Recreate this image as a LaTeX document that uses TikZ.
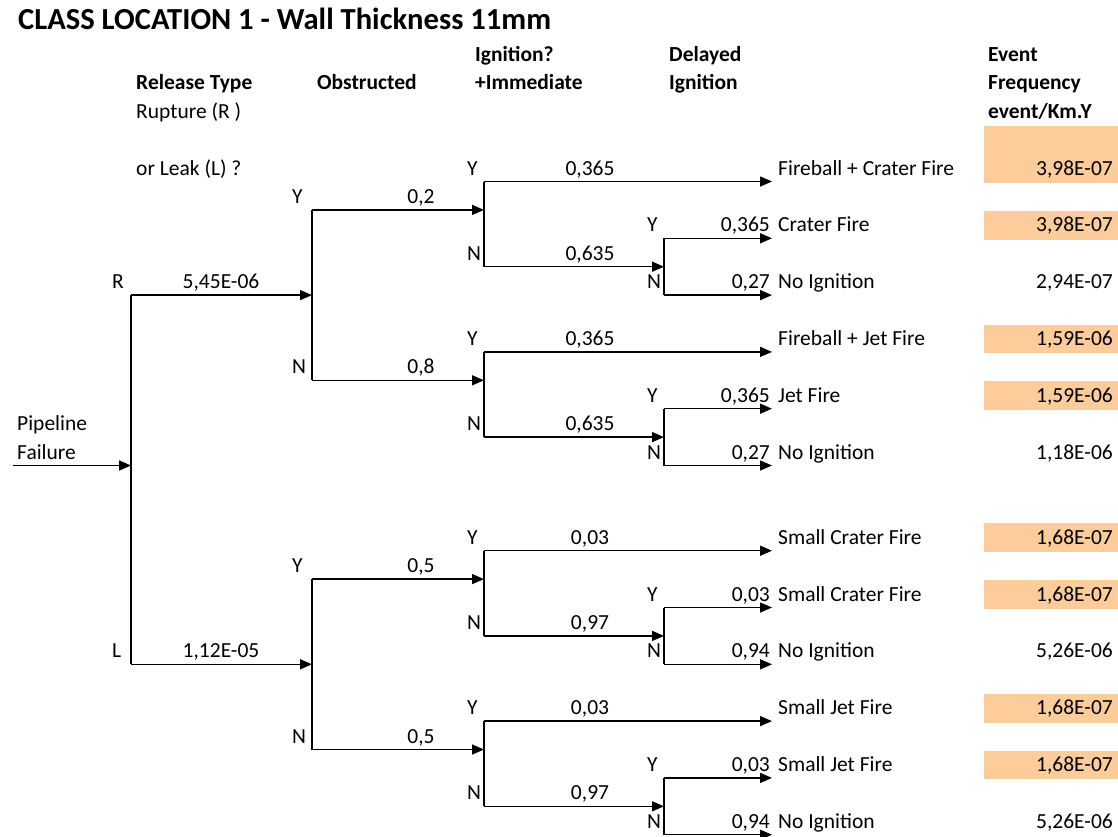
\documentclass[tikz,border=0pt]{standalone}
\usepackage{fontspec}
\setmainfont{Carlito}
\usetikzlibrary{arrows.meta}
\definecolor{cellshade}{RGB}{252,205,155}
\newcommand\rowy[1]{(181.5+28.4*(#1))}
\begin{document}
\begin{tikzpicture}[x=1pt,y=-1pt,
  hline/.style={line width=1.5pt},
  vline/.style={line width=1.2pt},
  arr/.style={hline,-{Triangle[length=12pt,width=10pt]}},
  txt/.style={inner sep=0pt,anchor=base west,font=\fontsize{21.5}{25}\selectfont},
  txtr/.style={txt,anchor=base east},
  txtc/.style={txt,anchor=base},
  hdr/.style={txt,font=\fontsize{21.5}{25}\selectfont\bfseries},
  ttl/.style={txt,font=\fontsize{30.6}{36}\selectfont\bfseries},
  cellbox/.style={fill=cellshade,draw=none}
]
\useasboundingbox (0,0) rectangle (1118,836);

% shaded cells
\fill[cellbox] (984,{\rowy{-2}+1}) rectangle (1118,{\rowy{0}+1.5});
\foreach \k in {2,6,8,13,15,19,21}{
  \fill[cellbox] (984,{\rowy{\k-1}+1}) rectangle (1118,{\rowy{\k}+1.5});
}

% title and headers
\node[ttl] (title) at (18,29.5) {CLASS LOCATION 1 - Wall Thickness 11mm};
\node[hdr] (h1a) at (136,{\rowy{-3}-6.5}) {Release Type};
\node[txt] (h1b) at (136,{\rowy{-2}-6.5}) {Rupture (R )};
\node[txt] (h1c) at (136,{\rowy{0}-6.5}) {or Leak (L) ?};
\node[hdr] (h2) at (317,{\rowy{-3}-6.5}) {Obstructed};
\node[hdr] (h3a) at (475,{\rowy{-4}-6.5}) {Ignition?};
\node[hdr] (h3b) at (475,{\rowy{-3}-6.5}) {+Immediate};
\node[hdr] (h4a) at (669,{\rowy{-4}-6.5}) {Delayed};
\node[hdr] (h4b) at (669,{\rowy{-3}-6.5}) {Ignition};
\node[hdr] (h5a) at (988,{\rowy{-4}-6.5}) {Event};
\node[hdr] (h5b) at (988,{\rowy{-3}-6.5}) {Frequency};
\node[hdr] (h5c) at (988,{\rowy{-2}-6.5}) {event/Km.Y};

% root
\node[txt] (pf1) at (17,{\rowy{9}-6.5}) {Pipeline};
\node[txt] (pf2) at (17,{\rowy{10}-6.5}) {Failure};
\coordinate (pf) at (13,{\rowy{10}});
\coordinate (rm) at (131,{\rowy{10}});
\coordinate (rt) at (131,{\rowy{4}});
\coordinate (rb) at (131,{\rowy{17}});
\draw[vline] (rt) -- (rb);
\draw[arr] (pf) -- (rm);

% level 2 (obstructed)
\coordinate (oR-t) at (312,{\rowy{1}});
\coordinate (oR-m) at (312,{\rowy{4}});
\coordinate (oR-b) at (312,{\rowy{7}});
\coordinate (oL-t) at (312,{\rowy{14}});
\coordinate (oL-m) at (312,{\rowy{17}});
\coordinate (oL-b) at (312,{\rowy{20}});
\draw[vline] (oR-t) -- (oR-b);
\draw[vline] (oL-t) -- (oL-b);
\draw[arr] (rt) -- (oR-m);
\draw[arr] (rb) -- (oL-m);
\node[txt] (lR) at (112,{\rowy{4}-6.5}) {R};
\node[txt] (lL) at (112,{\rowy{17}-6.5}) {L};
\node[txtc] (pR) at (221,{\rowy{4}-6.5}) {5,45E-06};
\node[txtc] (pL) at (221,{\rowy{17}-6.5}) {1,12E-05};
\node[txt] (yR) at (292,{\rowy{1}-6.5}) {Y};
\node[txt] (nR) at (292,{\rowy{7}-6.5}) {N};
\node[txt] (yL) at (292,{\rowy{14}-6.5}) {Y};
\node[txt] (nL) at (292,{\rowy{20}-6.5}) {N};
\node[txtc] (pRY) at (421,{\rowy{1}-6.5}) {0,2};
\node[txtc] (pRN) at (421,{\rowy{7}-6.5}) {0,8};
\node[txtc] (pLY) at (421,{\rowy{14}-6.5}) {0,5};
\node[txtc] (pLN) at (421,{\rowy{20}-6.5}) {0,5};

% levels 3 and 4
\foreach \k/\src in {0/oR-t,6/oR-b,13/oL-t,19/oL-b}{
  \coordinate (i\k-t) at (484,{\rowy{\k}});
  \coordinate (i\k-m) at (484,{\rowy{\k+1}});
  \coordinate (i\k-b) at (484,{\rowy{\k+3}});
  \coordinate (d\k-t) at (664,{\rowy{\k+2}});
  \coordinate (d\k-m) at (664,{\rowy{\k+3}});
  \coordinate (d\k-b) at (664,{\rowy{\k+4}});
  \coordinate (e\k-a) at (772,{\rowy{\k}});
  \coordinate (e\k-b) at (772,{\rowy{\k+2}});
  \coordinate (e\k-c) at (772,{\rowy{\k+4}});
  \draw[vline] (i\k-t) -- (i\k-b);
  \draw[vline] (d\k-t) -- (d\k-b);
  \draw[arr] (\src) -- (i\k-m);
  \draw[arr] (i\k-t) -- (e\k-a);
  \draw[arr] (i\k-b) -- (d\k-m);
  \draw[arr] (d\k-t) -- (e\k-b);
  \draw[arr] (d\k-b) -- (e\k-c);
  \node[txt] (y3-\k) at (467,{\rowy{\k}-6.5}) {Y};
  \node[txt] (n3-\k) at (467,{\rowy{\k+3}-6.5}) {N};
  \node[txt] (y4-\k) at (647,{\rowy{\k+2}-6.5}) {Y};
  \node[txt] (n4-\k) at (647,{\rowy{\k+4}-6.5}) {N};
}

% subtree k=0
\node[txtc] (p3y-0) at (590,{\rowy{0}-6.5}) {0,365};
\node[txtc] (p3n-0) at (590,{\rowy{3}-6.5}) {0,635};
\node[txtr] (p4y-0) at (770,{\rowy{2}-6.5}) {0,365};
\node[txtr] (p4n-0) at (770,{\rowy{4}-6.5}) {0,27};
\node[txt] (ev-0a) at (778,{\rowy{0}-6.5}) {Fireball + Crater Fire};
\node[txt] (ev-0b) at (778,{\rowy{2}-6.5}) {Crater Fire};
\node[txt] (ev-0c) at (778,{\rowy{4}-6.5}) {No Ignition};
\node[txtr] (fq-0a) at (1113,{\rowy{0}-6.5}) {3,98E-07};
\node[txtr] (fq-0b) at (1113,{\rowy{2}-6.5}) {3,98E-07};
\node[txtr] (fq-0c) at (1113,{\rowy{4}-6.5}) {2,94E-07};

% subtree k=6
\node[txtc] (p3y-6) at (590,{\rowy{6}-6.5}) {0,365};
\node[txtc] (p3n-6) at (590,{\rowy{9}-6.5}) {0,635};
\node[txtr] (p4y-6) at (770,{\rowy{8}-6.5}) {0,365};
\node[txtr] (p4n-6) at (770,{\rowy{10}-6.5}) {0,27};
\node[txt] (ev-6a) at (778,{\rowy{6}-6.5}) {Fireball + Jet Fire};
\node[txt] (ev-6b) at (778,{\rowy{8}-6.5}) {Jet Fire};
\node[txt] (ev-6c) at (778,{\rowy{10}-6.5}) {No Ignition};
\node[txtr] (fq-6a) at (1113,{\rowy{6}-6.5}) {1,59E-06};
\node[txtr] (fq-6b) at (1113,{\rowy{8}-6.5}) {1,59E-06};
\node[txtr] (fq-6c) at (1113,{\rowy{10}-6.5}) {1,18E-06};

% subtree k=13
\node[txtc] (p3y-13) at (590,{\rowy{13}-6.5}) {0,03};
\node[txtc] (p3n-13) at (590,{\rowy{16}-6.5}) {0,97};
\node[txtr] (p4y-13) at (770,{\rowy{15}-6.5}) {0,03};
\node[txtr] (p4n-13) at (770,{\rowy{17}-6.5}) {0,94};
\node[txt] (ev-13a) at (778,{\rowy{13}-6.5}) {Small Crater Fire};
\node[txt] (ev-13b) at (778,{\rowy{15}-6.5}) {Small Crater Fire};
\node[txt] (ev-13c) at (778,{\rowy{17}-6.5}) {No Ignition};
\node[txtr] (fq-13a) at (1113,{\rowy{13}-6.5}) {1,68E-07};
\node[txtr] (fq-13b) at (1113,{\rowy{15}-6.5}) {1,68E-07};
\node[txtr] (fq-13c) at (1113,{\rowy{17}-6.5}) {5,26E-06};

% subtree k=19
\node[txtc] (p3y-19) at (590,{\rowy{19}-6.5}) {0,03};
\node[txtc] (p3n-19) at (590,{\rowy{22}-6.5}) {0,97};
\node[txtr] (p4y-19) at (770,{\rowy{21}-6.5}) {0,03};
\node[txtr] (p4n-19) at (770,{\rowy{23}-6.5}) {0,94};
\node[txt] (ev-19a) at (778,{\rowy{19}-6.5}) {Small Jet Fire};
\node[txt] (ev-19b) at (778,{\rowy{21}-6.5}) {Small Jet Fire};
\node[txt] (ev-19c) at (778,{\rowy{23}-6.5}) {No Ignition};
\node[txtr] (fq-19a) at (1113,{\rowy{19}-6.5}) {1,68E-07};
\node[txtr] (fq-19b) at (1113,{\rowy{21}-6.5}) {1,68E-07};
\node[txtr] (fq-19c) at (1113,{\rowy{23}-6.5}) {5,26E-06};
\end{tikzpicture}
\end{document}
